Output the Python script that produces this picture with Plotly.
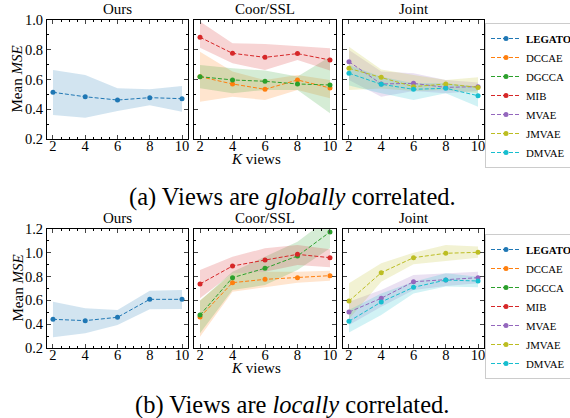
import plotly.graph_objects as go

K = [2, 4, 6, 8, 10]

# ---- (a) globally correlated ----
a_legato = [0.514, 0.484, 0.462, 0.478, 0.471]
a_legato_lo = [0.361, 0.343, 0.388, 0.427, 0.384]
a_legato_hi = [0.664, 0.630, 0.541, 0.534, 0.556]
a_dccae = [0.619, 0.570, 0.534, 0.597, 0.543]
a_dccae_lo = [0.451, 0.484, 0.462, 0.530, 0.474]
a_dccae_hi = [0.787, 0.653, 0.597, 0.630, 0.597]
a_dgcca = [0.619, 0.597, 0.588, 0.570, 0.563]
a_dgcca_lo = [0.541, 0.507, 0.530, 0.530, 0.373]
a_dgcca_hi = [0.697, 0.675, 0.660, 0.620, 0.753]
a_mib = [0.884, 0.776, 0.749, 0.774, 0.731]
a_mib_lo = [0.814, 0.709, 0.664, 0.731, 0.660]
a_mib_hi = [0.990, 0.843, 0.839, 0.825, 0.810]
a_mvae = [0.720, 0.570, 0.574, 0.547, 0.552]
a_mvae_lo = [0.597, 0.484, 0.523, 0.507, 0.523]
a_mvae_hi = [0.798, 0.653, 0.642, 0.597, 0.580]
a_jmvae = [0.675, 0.615, 0.552, 0.570, 0.547]
a_jmvae_lo = [0.530, 0.540, 0.523, 0.530, 0.507]
a_jmvae_hi = [0.821, 0.668, 0.630, 0.597, 0.615]
a_dmvae = [0.642, 0.568, 0.534, 0.541, 0.491]
a_dmvae_lo = [0.560, 0.507, 0.462, 0.507, 0.417]
a_dmvae_hi = [0.697, 0.619, 0.574, 0.575, 0.553]

# ---- (b) locally correlated ----
b_legato = [0.441, 0.430, 0.458, 0.609, 0.609]
b_legato_lo = [0.290, 0.324, 0.393, 0.525, 0.527]
b_legato_hi = [0.589, 0.534, 0.519, 0.681, 0.687]
b_dccae = [0.460, 0.749, 0.777, 0.791, 0.808]
b_dccae_lo = [0.295, 0.673, 0.710, 0.749, 0.766]
b_dccae_hi = [0.600, 0.828, 0.840, 0.841, 0.850]
b_dgcca = [0.477, 0.791, 0.870, 0.973, 1.175]
b_dgcca_lo = [0.324, 0.687, 0.729, 0.855, 1.038]
b_dgcca_hi = [0.597, 0.841, 0.967, 1.093, 1.300]
b_mib = [0.738, 0.889, 0.939, 0.987, 0.959]
b_mib_lo = [0.618, 0.828, 0.841, 0.897, 0.878]
b_mib_hi = [0.855, 0.967, 1.038, 1.066, 1.029]
b_mvae = [0.502, 0.618, 0.757, 0.771, 0.791]
b_mvae_lo = [0.393, 0.547, 0.687, 0.721, 0.744]
b_mvae_hi = [0.589, 0.687, 0.813, 0.828, 0.841]
b_jmvae = [0.594, 0.833, 0.959, 0.996, 1.004]
b_jmvae_lo = [0.444, 0.757, 0.903, 0.931, 0.959]
b_jmvae_hi = [0.744, 0.912, 1.001, 1.066, 1.052]
b_dmvae = [0.424, 0.587, 0.710, 0.771, 0.763]
b_dmvae_lo = [0.330, 0.477, 0.659, 0.716, 0.710]
b_dmvae_hi = [0.519, 0.659, 0.757, 0.828, 0.799]

methods = ["LEGATO", "DCCAE", "DGCCA", "MIB", "MVAE", "JMVAE", "DMVAE"]
colors = ["#1f77b4", "#ff7f0e", "#2ca02c", "#d62728", "#9467bd", "#bcbd22", "#17becf"]
panel_of = [0, 1, 1, 1, 2, 2, 2]
panel_titles = ["Ours", "Coor/SSL", "Joint"]
captions = ["(a) Views are <i>globally</i> correlated.", "(b) Views are <i>locally</i> correlated."]

rows = [
    [(a_legato, a_legato_lo, a_legato_hi), (a_dccae, a_dccae_lo, a_dccae_hi),
     (a_dgcca, a_dgcca_lo, a_dgcca_hi), (a_mib, a_mib_lo, a_mib_hi),
     (a_mvae, a_mvae_lo, a_mvae_hi), (a_jmvae, a_jmvae_lo, a_jmvae_hi),
     (a_dmvae, a_dmvae_lo, a_dmvae_hi)],
    [(b_legato, b_legato_lo, b_legato_hi), (b_dccae, b_dccae_lo, b_dccae_hi),
     (b_dgcca, b_dgcca_lo, b_dgcca_hi), (b_mib, b_mib_lo, b_mib_hi),
     (b_mvae, b_mvae_lo, b_mvae_hi), (b_jmvae, b_jmvae_lo, b_jmvae_hi),
     (b_dmvae, b_dmvae_lo, b_dmvae_hi)],
]
y_ranges = [[0.2, 1.0], [0.2, 1.2]]

W, H = 570, 418
FONT = "Liberation Serif"

def px_x(p):
    return p / W

def px_y(p):
    return 1 - p / H

col_px = [(47, 188), (194, 336), (343, 484)]
row_px = [(20, 139), (229, 348)]
legend_top = [23, 234]
caption_y = [197, 405]

def rgba(hexc, a):
    h = hexc.lstrip("#")
    r, g, b = int(h[0:2], 16), int(h[2:4], 16), int(h[4:6], 16)
    return f"rgba({r},{g},{b},{a})"

fig = go.Figure()
layout = {}
annotations = []

for r in range(2):
    for c in range(3):
        idx = r * 3 + c + 1
        xs = "" if idx == 1 else str(idx)
        layout["xaxis" + xs] = dict(
            domain=[px_x(col_px[c][0]), px_x(col_px[c][1])],
            anchor="y" + xs, range=[1.63, 10.37],
            tickvals=K, ticks="inside", ticklen=4, tickwidth=0.8,
            mirror="allticks", showline=True, linecolor="black", linewidth=1,
            showgrid=False, zeroline=False, ticklabelstandoff=-6, automargin=False,
            minor=dict(ticks="inside", ticklen=2, dtick=0.5, tickcolor="black", showgrid=False),
            tickfont=dict(family=FONT, size=14.5, color="black"),
        )
        y0, y1 = y_ranges[r]
        layout["yaxis" + xs] = dict(
            domain=[px_y(row_px[r][1]), px_y(row_px[r][0])],
            anchor="x" + xs, range=[y0, y1],
            dtick=0.2, tick0=0.2, tickformat=".1f",
            ticks="inside", ticklen=4, tickwidth=0.8,
            mirror="allticks", showline=True, linecolor="black", linewidth=1,
            showgrid=False, zeroline=False, showticklabels=(c == 0), automargin=False,
            minor=dict(ticks="inside", ticklen=2, dtick=0.1, tickcolor="black", showgrid=False),
            tickfont=dict(family=FONT, size=14.5, color="black"),
        )
        annotations.append(dict(
            text=panel_titles[c], xref="paper", yref="paper",
            x=px_x((col_px[c][0] + col_px[c][1]) / 2), y=px_y(row_px[r][0] - 1),
            xanchor="center", yanchor="bottom", showarrow=False,
            font=dict(family=FONT, size=15, color="black"),
        ))

    # bands first, then lines
    for m, (mean, lo, hi) in enumerate(rows[r]):
        idx = r * 3 + panel_of[m] + 1
        xs = "" if idx == 1 else str(idx)
        fig.add_trace(go.Scatter(
            x=K + K[::-1], y=hi + lo[::-1], fill="toself",
            fillcolor=rgba(colors[m], 0.2), line=dict(width=0),
            mode="lines", showlegend=False, hoverinfo="skip",
            xaxis="x" + xs, yaxis="y" + xs,
        ))
    for m, (mean, lo, hi) in enumerate(rows[r]):
        idx = r * 3 + panel_of[m] + 1
        xs = "" if idx == 1 else str(idx)
        name = "<b>LEGATO</b>" if methods[m] == "LEGATO" else methods[m]
        fig.add_trace(go.Scatter(
            x=K, y=mean, mode="lines+markers", name=name,
            line=dict(color=colors[m], width=1, dash="4px,2px"),
            marker=dict(color=colors[m], size=5),
            xaxis="x" + xs, yaxis="y" + xs,
            legend="legend" if r == 0 else "legend2",
        ))

    annotations.append(dict(
        text="Mean <i>MSE</i>", xref="paper", yref="paper",
        x=px_x(17), y=px_y((row_px[r][0] + row_px[r][1]) / 2),
        textangle=-90, xanchor="center", yanchor="middle", showarrow=False,
        font=dict(family=FONT, size=15, color="black"),
    ))
    annotations.append(dict(
        text="<i>K</i> views", xref="paper", yref="paper",
        x=px_x(256), y=px_y(row_px[r][1] + 20),
        xanchor="center", yanchor="middle", showarrow=False,
        font=dict(family=FONT, size=15, color="black"),
    ))
    annotations.append(dict(
        text=captions[r], xref="paper", yref="paper",
        x=px_x(292), y=px_y(caption_y[r]),
        xanchor="center", yanchor="middle", showarrow=False,
        font=dict(family=FONT, size=24.5, color="black"),
    ))

leg_common = dict(
    x=px_x(485), xanchor="left", yanchor="top",
    bgcolor="white", bordercolor="#cccccc", borderwidth=1,
    font=dict(family=FONT, size=10.8, color="black"),
    itemwidth=30, tracegroupgap=0,
)
layout["legend"] = dict(y=px_y(legend_top[0]), **leg_common)
layout["legend2"] = dict(y=px_y(legend_top[1]), **leg_common)

fig.update_layout(
    width=W, height=H,
    margin=dict(l=0, r=0, t=0, b=0, pad=0, autoexpand=False),
    paper_bgcolor="white", plot_bgcolor="white",
    annotations=annotations, showlegend=True,
    **layout,
)

# remove the default 8px page margin so the figure fills the 570x418 window
fig.write_html(
    "out.html",
    config={"displayModeBar": False},
    post_script="document.body.style.margin='0px';",
)
